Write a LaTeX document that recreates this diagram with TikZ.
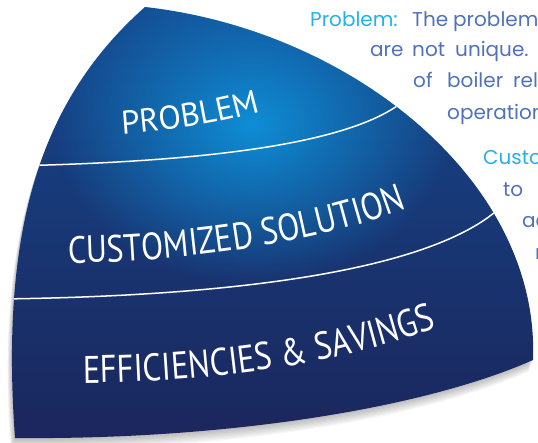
\documentclass[tikz,border=0pt]{standalone}
\usepackage{fontspec}
\usetikzlibrary{decorations.text,fadings}
\newfontfamily\capfont[FakeStretch=0.85]{PT Sans}
\newfontfamily\capfontw{PT Sans}
\newfontfamily\bodyfont{Poppins}
\definecolor{navytop}{RGB}{21,72,142}
\definecolor{navybot}{RGB}{27,38,92}
\definecolor{glowc}{RGB}{14,142,214}
\definecolor{cyantxt}{RGB}{35,178,232}
\definecolor{slatetxt}{RGB}{80,114,186}
\tikzfading[name=glowfade, inner color=transparent!0, outer color=transparent!100]
\newcommand\wedgepath{(145,7) .. controls (350,30) and (540,180) .. (533,360) .. controls (420,410) and (220,440) .. (15,438) .. controls (0,230) and (40,100) .. (145,7) -- cycle}
\tikzset{
  bodytxt/.style={font=\bodyfont\fontsize{20}{24}\selectfont, text=slatetxt, anchor=base west, inner sep=0pt},
  headtxt/.style={bodytxt, text=cyantxt},
  divider/.style={white, line width=1.5pt},
}
\begin{document}
\begin{tikzpicture}[x=1pt,y=-1pt]
\useasboundingbox (0,0) rectangle (538,443);
\clip (0,0) rectangle (538,443);
% shadow
\foreach \d in {1,...,9} {
  \fill[black, opacity=0.03, shift={(-0.5*\d,1.3*\d)}] \wedgepath;
}
% body
\shade[top color=navytop, bottom color=navybot] \wedgepath;
\begin{scope}
  \clip \wedgepath;
  \fill[glowc, path fading=glowfade] (252,124) ellipse (200 and 160);
  \draw[divider] (10,166) .. controls (200,162) and (340,145) .. (397,106) -- (420,94);
  \draw[divider] (0,299) .. controls (250,296) and (420,268) .. (490,216) -- (505,204);
\end{scope}
% labels along arcs
\path[decorate, decoration={text along path, text color=white,
  text={|\capfontw\fontsize{33}{33}\selectfont|PROBLEM}}]
  (122,134) .. controls (180,130) and (240,122) .. (320,92);
\path[decorate, decoration={text along path, text color=white,
  text={|\capfont\fontsize{38}{38}\selectfont|CUSTOMIZED SOLUTION}}]
  (68,263) .. controls (180,262) and (340,244) .. (450,190) -- (520,150);
\path[decorate, decoration={text along path, text color=white,
  text={|\capfont\fontsize{38.5}{38.5}\selectfont|EFFICIENCIES {\&} SAVINGS}}]
  (83,383) .. controls (190,382) and (340,370) .. (470,315) -- (530,285);
% right text
\node[headtxt] (w1) at (310,27) {Problem:};
\node[bodytxt] (w2) at (412,27) {The};
\node[bodytxt] (w3) at (453,27) {problem};
\node[bodytxt] (w4) at (370,57) {are};
\node[bodytxt] (w5) at (412,57) {not};
\node[bodytxt] (w6) at (455,57) {unique.};
\node[bodytxt] (w7) at (413,88) {of};
\node[bodytxt] (w8) at (447,88) {boiler};
\node[bodytxt] (w9) at (513,88) {rel};
\node[bodytxt] (w10) at (447,120) {operation};
\node[headtxt] (w11) at (483,165) {Custo};
\node[bodytxt] (w12) at (503,197) {to};
\node[bodytxt] (w13) at (522,228) {ac};
\node[bodytxt] (w14) at (535,260) {r};
\end{tikzpicture}
\end{document}
